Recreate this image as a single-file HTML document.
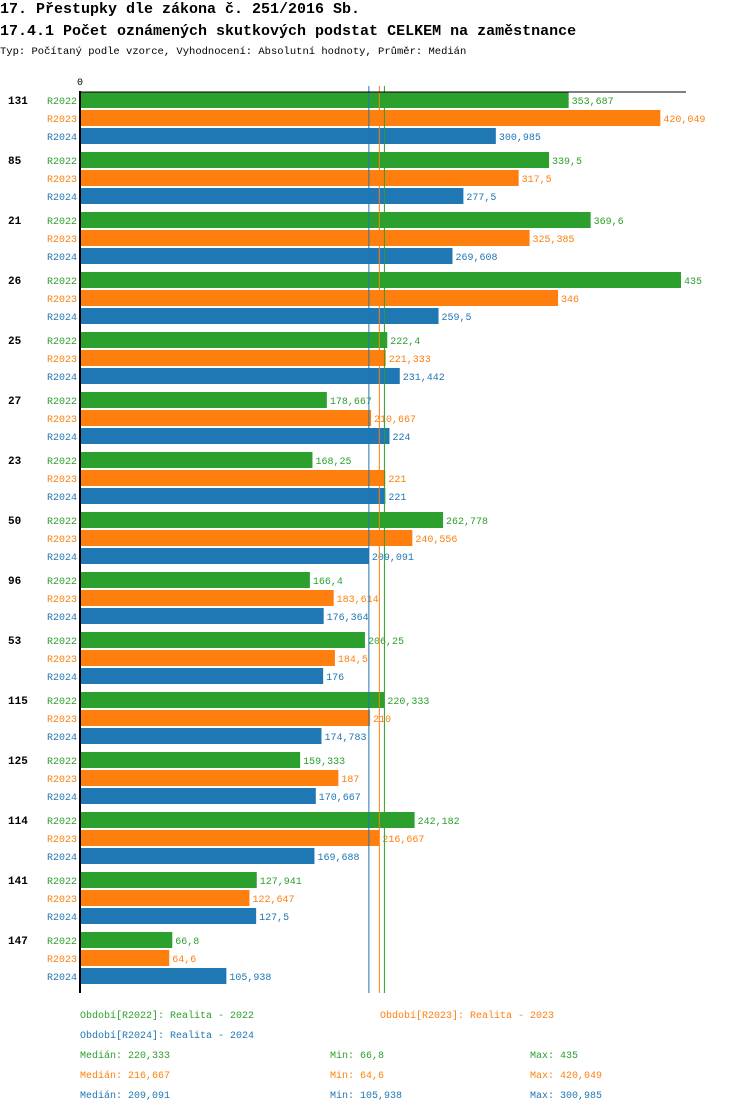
<!DOCTYPE html>
<html><head><meta charset="utf-8"><style>
html,body{margin:0;padding:0;background:#fff;width:750px;height:1112px;overflow:hidden}
svg{display:block}
text{font-family:"Liberation Mono","DejaVu Sans Mono",monospace}
</style></head><body>
<svg id="chart" width="750" height="1112" xmlns="http://www.w3.org/2000/svg">
<text x="0" y="13" font-size="15" font-weight="bold" fill="#000">17. Přestupky dle zákona č. 251/2016 Sb.</text>
<text x="0" y="35" font-size="15" font-weight="bold" fill="#000">17.4.1 Počet oznámených skutkových podstat CELKEM na zaměstnance</text>
<text x="0" y="54" font-size="10.5" fill="#000">Typ: Počítaný podle vzorce, Vyhodnocení: Absolutní hodnoty, Průměr: Medián</text>
<text x="80" y="85" font-size="10" text-anchor="middle" fill="#000">0</text>
<g id="bars"></g>
<g id="legend"></g>
</svg>
<script>
const categories=["131","85","21","26","25","27","23","50","96","53","115","125","114","141","147"];
const series=["R2022","R2023","R2024"];
const r2022=[353.687,339.5,369.6,435,222.4,178.667,168.25,262.778,166.4,206.25,220.333,159.333,242.182,127.941,66.8];
const r2023=[420.049,317.5,325.385,346,221.333,210.667,221,240.556,183.614,184.5,210,187,216.667,122.647,64.6];
const r2024=[300.985,277.5,269.608,259.5,231.442,224,221,209.091,176.364,176,174.783,170.667,169.688,127.5,105.938];
const medians=[220.333,216.667,209.091];
const mins=[66.8,64.6,105.938];
const maxs=[435,420.049,300.985];
const colors=["#2ca02c","#ff7f0e","#1f77b4"];
const NS="http://www.w3.org/2000/svg";
const x0=80, scale=(681-80)/435;
const xs=v=>x0+v*scale;
const groupY=i=>92+i*60;
const fmt=v=>String(+v.toFixed(3)).replace('.',',');
const g=document.getElementById('bars');
function mk(tag,attrs,parent){const e=document.createElementNS(NS,tag);for(const k in attrs)e.setAttribute(k,attrs[k]);parent.appendChild(e);return e;}
const vals=[r2022,r2023,r2024];
categories.forEach((c,i)=>{
  const gy=groupY(i);
  const t=mk('text',{x:8,y:gy+12,'font-size':11,'font-weight':'bold',fill:'#000'},g);
  
  
  t.textContent=c;
  vals.forEach((arr,s)=>{
    const y=gy+s*18;
    const l=mk('text',{x:77,y:y+12,'font-size':10,'text-anchor':'end',fill:colors[s]},g);
    
    
    l.textContent=series[s];
    const r=mk('rect',{x:x0,y:y,width:xs(arr[i])-x0,height:16,fill:colors[s]},g);
    
    
    const v=mk('text',{x:xs(arr[i])+3,y:y+12,'font-size':10,fill:colors[s]},g);
    
    
    v.textContent=fmt(arr[i]);
  });
});
const yEnd=groupY(categories.length-1)+61;
[2,1,0].forEach(s=>{
  const ln=mk('line',{x1:xs(medians[s]),x2:xs(medians[s]),y1:86,y2:yEnd,stroke:colors[s],'stroke-width':1},g);
  
  
});
const yAxis=mk('line',{x1:x0,x2:x0,y1:91,y2:yEnd,stroke:'#000','stroke-width':2},g);


const topAxis=mk('line',{x1:x0,x2:686,y1:92,y2:92,stroke:'#000','stroke-width':1},g);


const lg=document.getElementById('legend');
function lt(x,y,txt,col,name){const e=mk('text',{x:x,y:y,'font-size':10,fill:col},lg);e.textContent=txt;}
lt(80,1018,'Období[R2022]: Realita - 2022',colors[0],'legend-entry');
lt(380,1018,'Období[R2023]: Realita - 2023',colors[1],'legend-entry');
lt(80,1038,'Období[R2024]: Realita - 2024',colors[2],'legend-entry');
[0,1,2].forEach(s=>{
  const y=1058+s*20;
  lt(80,y,'Medián: '+fmt(medians[s]),colors[s],'median-stat');
  lt(330,y,'Min: '+fmt(mins[s]),colors[s],'min-stat');
  lt(530,y,'Max: '+fmt(maxs[s]),colors[s],'max-stat');
});
</script>
</body></html>
